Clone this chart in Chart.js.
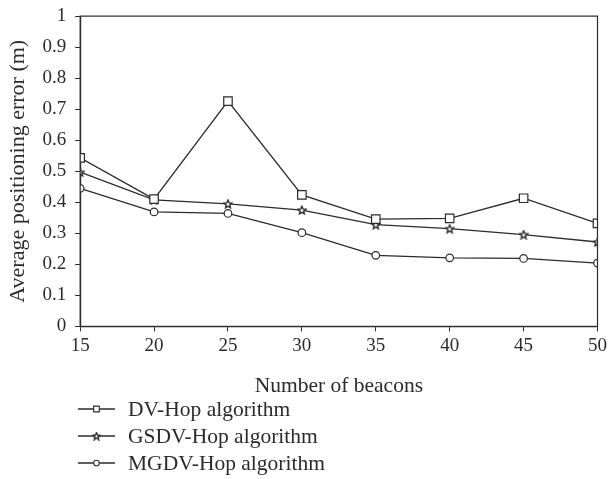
<!DOCTYPE html>
<html>
<head>
<meta charset="utf-8">
<script src="https://cdn.jsdelivr.net/npm/chart.js@4/dist/chart.umd.min.js"></script>
<style>
  html, body { margin: 0; padding: 0; background: #fff; }
  #wrap { width: 610px; height: 479px; position: relative; }
</style>
</head>
<body>
<div id="wrap"><canvas id="chart"></canvas></div>
<script>
const beacons = [15, 20, 25, 30, 35, 40, 45, 50];
const dvHop = [0.543, 0.410, 0.726, 0.424, 0.346, 0.348, 0.413, 0.332];
const gsdvHop = [0.497, 0.408, 0.395, 0.375, 0.328, 0.315, 0.296, 0.272];
const mgdvHop = [0.445, 0.369, 0.364, 0.302, 0.229, 0.221, 0.219, 0.204];
const seriesNames = ["DV-Hop algorithm", "GSDV-Hop algorithm", "MGDV-Hop algorithm"];
const yTicks = [0, 0.1, 0.2, 0.3, 0.4, 0.5, 0.6, 0.7, 0.8, 0.9, 1];

const ink = "#2b2b2b";
const serif = "'Liberation Serif', 'Times New Roman', serif";

// small outlined five point star used as a point style
function makeStar(size) {
  const c = document.createElement("canvas");
  c.width = size; c.height = size;
  const g = c.getContext("2d");
  const cx = size / 2, cy = size / 2 + 0.4, ro = size / 2 - 0.8, ri = ro * 0.45;
  g.beginPath();
  for (let i = 0; i < 10; i++) {
    const r = i % 2 ? ri : ro;
    const a = -Math.PI / 2 + i * Math.PI / 5;
    g.lineTo(cx + r * Math.cos(a), cy + r * Math.sin(a));
  }
  g.closePath();
  g.fillStyle = "#fff";
  g.fill();
  g.strokeStyle = ink;
  g.lineWidth = 1.4;
  g.stroke();
  return c;
}

const starBig = makeStar(10);
const starSmall = makeStar(9);

const pts = vals => beacons.map((b, i) => ({ x: b, y: vals[i] }));

function ds(label, vals, style, radius) {
  return {
    label: label,
    data: pts(vals),
    borderColor: ink,
    backgroundColor: "#fff",
    borderWidth: 1.3,
    pointStyle: style,
    pointRadius: radius,
    pointBorderWidth: 1.2,
    pointBorderColor: ink,
    pointBackgroundColor: "#fff",
    tension: 0
  };
}

const boxPlugin = {
  id: "box",
  afterDatasetsDraw(chart) {
    const a = chart.chartArea;
    const g = chart.ctx;
    g.save();
    g.strokeStyle = ink;
    g.lineWidth = 1.2;
    g.strokeRect(a.left, a.top, a.right - a.left, a.bottom - a.top);
    g.restore();
  }
};

const legendPlugin = {
  id: "stackLegend",
  afterDraw(chart) {
    const g = chart.ctx;
    const rows = [409, 436, 463];
    const legendMarks = [
      { style: "rect", r: 4 },
      { style: starSmall, r: 4 },
      { style: "circle", r: 2.8 }
    ];
    g.save();
    chart.data.datasets.forEach((d, i) => {
      const y = rows[i];
      g.strokeStyle = ink;
      g.lineWidth = 1.3;
      g.beginPath();
      g.moveTo(78, y);
      g.lineTo(115, y);
      g.stroke();
      g.fillStyle = "#fff";
      g.lineWidth = 1.1;
      Chart.helpers.drawPoint(g, { pointStyle: legendMarks[i].style, radius: legendMarks[i].r, borderWidth: 1.1, rotation: 0 }, 96.5, y);
      g.fillStyle = ink;
      g.font = "21.5px " + serif;
      g.textBaseline = "middle";
      g.textAlign = "left";
      g.fillText(d.label, 128, y + 1);
    });
    g.restore();
  }
};

new Chart(document.getElementById("chart"), {
  type: "line",
  data: {
    datasets: [
      ds(seriesNames[0], dvHop, "rect", 6),
      ds(seriesNames[1], gsdvHop, starBig, 5),
      ds(seriesNames[2], mgdvHop, "circle", 3.8)
    ]
  },
  options: {
    responsive: true,
    maintainAspectRatio: false,
    animation: false,
    layout: { padding: { top: 0, right: 0, bottom: 80, left: 5 } },
    plugins: { legend: { display: false }, tooltip: { enabled: false } },
    scales: {
      x: {
        type: "linear",
        min: 15,
        max: 50,
        ticks: { stepSize: 5, color: ink, font: { family: serif, size: 19 }, padding: 3 },
        grid: { drawOnChartArea: false, drawTicks: true, tickLength: 5, color: ink },
        border: { display: true, color: ink, width: 1.2 },
        title: { display: true, text: "Number of beacons", color: ink, font: { family: serif, size: 21.5 }, padding: { top: 13, bottom: 0 } }
      },
      y: {
        min: 0,
        max: 1,
        afterBuildTicks: axis => { axis.ticks = yTicks.map(v => ({ value: v })); },
        ticks: { color: ink, font: { family: serif, size: 19, lineHeight: 0.75 }, padding: 9, callback: v => String(Number(v.toFixed(1))) },
        grid: { drawOnChartArea: false, drawTicks: true, tickLength: 5, color: ink },
        border: { display: true, color: ink, width: 1.2 },
        title: { display: true, text: "Average positioning error (m)", color: ink, font: { family: serif, size: 22 }, padding: { top: 0, bottom: 2 } }
      }
    }
  },
  plugins: [boxPlugin, legendPlugin]
});
</script>
</body>
</html>
